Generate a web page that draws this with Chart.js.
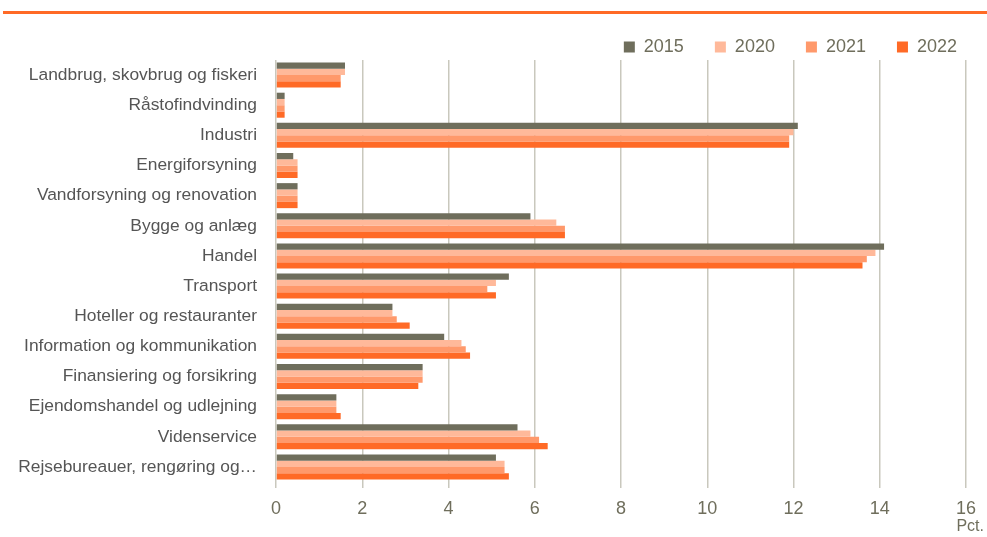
<!DOCTYPE html>
<html>
<head>
<meta charset="utf-8">
<script src="https://cdn.jsdelivr.net/npm/chart.js@4.4.1/dist/chart.umd.min.js"></script>
<style>
  html, body { margin: 0; padding: 0; background: #fff; }
  #wrap { position: relative; width: 987px; height: 537px; overflow: hidden; }
  #topLine { position: absolute; left: 3px; right: 0; top: 11px; height: 3px; background: #ff6a26; }
  #chart { position: absolute; left: 0; top: 0; }
</style>
</head>
<body>
<div id="wrap">
  <div id="topLine"></div>
  <canvas id="chart" width="987" height="537"></canvas>
</div>
<script>
const categories = [
  "Landbrug, skovbrug og fiskeri",
  "Råstofindvinding",
  "Industri",
  "Energiforsyning",
  "Vandforsyning og renovation",
  "Bygge og anlæg",
  "Handel",
  "Transport",
  "Hoteller og restauranter",
  "Information og kommunikation",
  "Finansiering og forsikring",
  "Ejendomshandel og udlejning",
  "Videnservice",
  "Rejsebureauer, rengøring og…"
];

const values2015 = [1.6, 0.2, 12.1, 0.4, 0.5, 5.9, 14.1, 5.4, 2.7, 3.9, 3.4, 1.4, 5.6, 5.1];
const values2020 = [1.6, 0.2, 12.0, 0.5, 0.5, 6.5, 13.9, 5.1, 2.7, 4.3, 3.4, 1.4, 5.9, 5.3];
const values2021 = [1.5, 0.2, 11.9, 0.5, 0.5, 6.7, 13.7, 4.9, 2.8, 4.4, 3.4, 1.4, 6.1, 5.3];
const values2022 = [1.5, 0.2, 11.9, 0.5, 0.5, 6.7, 13.6, 5.1, 3.1, 4.5, 3.3, 1.5, 6.3, 5.4];

const seriesNames = ["2015", "2020", "2021", "2022"];
const seriesColors = ["#6f6e5c", "#ffb99a", "#ff996b", "#ff6a26"];

const xMin = 0;
const xMax = 16;
const xStep = 2;
const unitLabel = "Pct.";

const font = "'Liberation Sans', Arial, sans-serif";
const tickGray = "#6f6e5c";

// legend sits a bit lower and further right than chart.js puts it
const nudgeLegend = {
  id: "nudgeLegend",
  afterLayout(chart) {
    const lg = chart.legend;
    if (!lg) return;
    lg.top += 6;
    lg.bottom += 6;
    lg.left += 22;
    lg.right += 22;
  }
};

// "Pct." under the last tick
const unitText = {
  id: "unitText",
  afterDraw(chart) {
    const ctx = chart.ctx;
    ctx.save();
    ctx.font = "16px " + font;
    ctx.fillStyle = tickGray;
    ctx.textAlign = "right";
    ctx.textBaseline = "middle";
    ctx.fillText(unitLabel, 984, 527);
    ctx.restore();
  }
};

const allValues = [values2015, values2020, values2021, values2022];

new Chart(document.getElementById("chart"), {
  type: "bar",
  data: {
    labels: categories,
    datasets: allValues.map((vals, i) => ({
      label: seriesNames[i],
      data: vals,
      backgroundColor: seriesColors[i],
      borderWidth: 0,
      categoryPercentage: 0.83,
      barPercentage: 1.0
    }))
  },
  options: {
    indexAxis: "y",
    responsive: false,
    animation: false,
    layout: { padding: { left: 0, right: 21, top: 1, bottom: 0 } },
    plugins: {
      tooltip: { enabled: false },
      legend: {
        position: "top",
        align: "end",
        labels: {
          boxWidth: 11,
          boxHeight: 11,
          padding: 31,
          color: tickGray,
          font: { family: font, size: 18 }
        }
      }
    },
    scales: {
      x: {
        min: xMin,
        max: xMax,
        border: { display: false },
        grid: {
          color: "#c9c8bd",
          lineWidth: 1.5,
          drawTicks: true,
          tickLength: 6,
          tickColor: "#c9c8bd"
        },
        ticks: {
          stepSize: xStep,
          color: tickGray,
          padding: 10,
          font: { family: font, size: 18 }
        },
        afterFit(scale) { scale.height = 55; }
      },
      y: {
        border: { display: false },
        grid: { display: false },
        ticks: {
          color: "#555",
          padding: 11,
          autoSkip: false,
          font: { family: font, size: 17.4 }
        },
        afterFit(scale) { scale.width = 276; }
      }
    }
  },
  plugins: [nudgeLegend, unitText]
});
</script>
</body>
</html>
